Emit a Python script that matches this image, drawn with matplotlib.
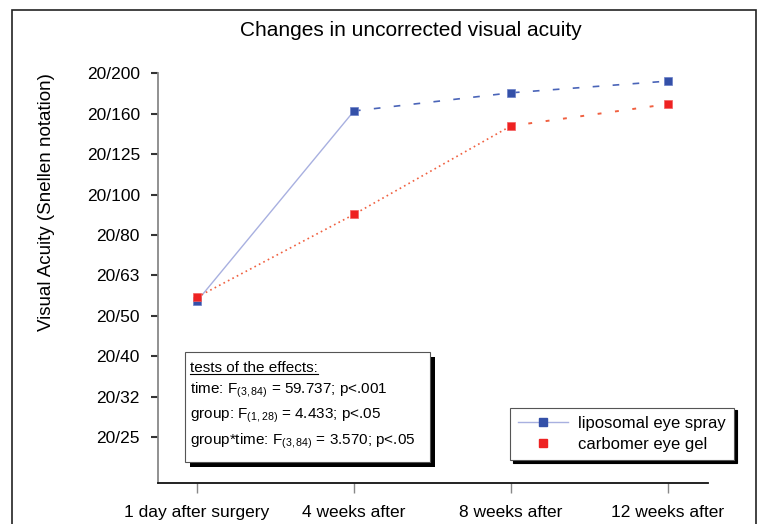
import matplotlib
matplotlib.use("Agg")
import matplotlib.pyplot as plt
from matplotlib.lines import Line2D
from matplotlib.patches import Rectangle

plt.rcParams['font.family'] = ['Liberation Sans', 'DejaVu Sans']
plt.rcParams['mathtext.fontset'] = 'custom'
plt.rcParams['mathtext.rm'] = 'Liberation Sans'
plt.rcParams['mathtext.it'] = 'Liberation Sans:italic'

# data (y = Snellen line index, 0 = 20/25 ... 9 = 20/200)
times = ['1 day after surgery', '4 weeks after', '8 weeks after', '12 weeks after']
snellen = ['20/25', '20/32', '20/40', '20/50', '20/63', '20/80',
           '20/100', '20/125', '20/160', '20/200']
spray = [3.36, 8.07, 8.52, 8.81]
gel = [3.46, 5.51, 7.70, 8.24]

blue = '#3450a8'
red = '#ee2222'

fig = plt.figure(figsize=(7.59, 5.24), dpi=100)
ax = fig.add_axes([0.2082, 0.0782, 0.7246, 0.7817])

x = list(range(len(times)))

# blue: solid light first segment, dashed after
ax.plot(x[:2], spray[:2], color='#a8b0e0', lw=1.0, zorder=2)
ax.plot(x[1:], spray[1:], color='#4a64b8', lw=1.2, dashes=(4, 8), zorder=2)
# red: dotted
ax.plot(x[:3], gel[:3], color='#f06040', lw=1.2, dashes=(1, 2), zorder=2)
ax.plot(x[2:], gel[2:], color='#f06040', lw=1.4, dashes=(2, 7), zorder=2)
ax.plot(x, spray, 's', color=blue, ms=5.5, mec='#6a80c8', mew=0.5, zorder=3)
ax.plot(x, gel, 's', color=red, ms=5.5, mec='#f46060', mew=0.5, zorder=4)

ax.set_xlim(-0.248, 3.255)
ax.set_ylim(-1.14, 9)
ax.set_xticks(x)
ax.set_xticklabels(times, fontsize=12.5)
ax.set_yticks(range(len(snellen)))
ax.set_yticklabels(snellen, fontsize=12.5)
ax.tick_params(axis='y', length=5, width=1.5, color='#333333', pad=8)
ax.tick_params(axis='x', length=7, width=1, color='#888888', pad=9)
for s in ['top', 'right']:
    ax.spines[s].set_visible(False)
ax.spines['left'].set_color('#888888')
ax.spines['left'].set_linewidth(1.3)
ax.spines['bottom'].set_color('#111111')
ax.spines['bottom'].set_linewidth(1.3)

ax.set_ylabel('Visual Acuity (Snellen notation)', fontsize=13.5)
ax.yaxis.set_label_coords(-0.188, 0.686)
fig.text(411 / 759, 1 - 30 / 524, 'Changes in uncorrected visual acuity',
         ha='center', va='center', fontsize=15)

# statistics box with shadow
ax.add_patch(Rectangle((0.058, 0.039), 0.446, 0.269, transform=ax.transAxes,
                       facecolor='black', edgecolor='none', zorder=5, clip_on=False))
ax.add_patch(Rectangle((0.049, 0.051), 0.446, 0.269, transform=ax.transAxes,
                       facecolor='white', edgecolor='#555555', lw=0.8, zorder=6,
                       clip_on=False))
stats = ['tests of the effects:',
         r'time: F$_{(3,84)}$ = 59.737; p<.001',
         r'group: F$_{(1,28)}$ = 4.433; p<.05',
         r'group*time: F$_{(3,84)}$ = 3.570; p<.05']
ys = [0.280, 0.226, 0.165, 0.101]
texts = []
for t, yy in zip(stats, ys):
    texts.append(ax.text(0.058, yy, t, transform=ax.transAxes, fontsize=11,
                         va='center', ha='left', zorder=7))

# legend
handles = [Line2D([], [], color='#a8b0e0', lw=1.0, marker='s', ms=5.5,
                  mfc=blue, mec=blue),
           Line2D([], [], color='none', marker='s', ms=5.5, mfc=red, mec=red)]
leg = ax.legend(handles, ['liposomal eye spray', 'carbomer eye gel'],
                loc='lower left', bbox_to_anchor=(0.64, 0.056), fontsize=12,
                frameon=True, fancybox=False, shadow={'color': 'black', 'alpha': 1},
                handlelength=3.0, borderpad=0.5, labelspacing=0.35,
                handletextpad=0.6, borderaxespad=0)
leg.get_frame().set_edgecolor('#555555')
leg.get_frame().set_linewidth(0.8)
leg.set_zorder(8)

# outer frame
fig.add_artist(Rectangle((12 / 759, -0.05), 744 / 759, 1.05 - 10 / 524,
                         transform=fig.transFigure, fill=False,
                         edgecolor='#222222', lw=1.2))

# underline for the header of the stats box
fig.canvas.draw()
bb = texts[0].get_window_extent().transformed(fig.transFigure.inverted())
fig.add_artist(Line2D([bb.x0, bb.x1], [bb.y0 + 0.002, bb.y0 + 0.002],
                      transform=fig.transFigure, color='black', lw=0.8, zorder=9))

fig.savefig('out.png', dpi=100)
